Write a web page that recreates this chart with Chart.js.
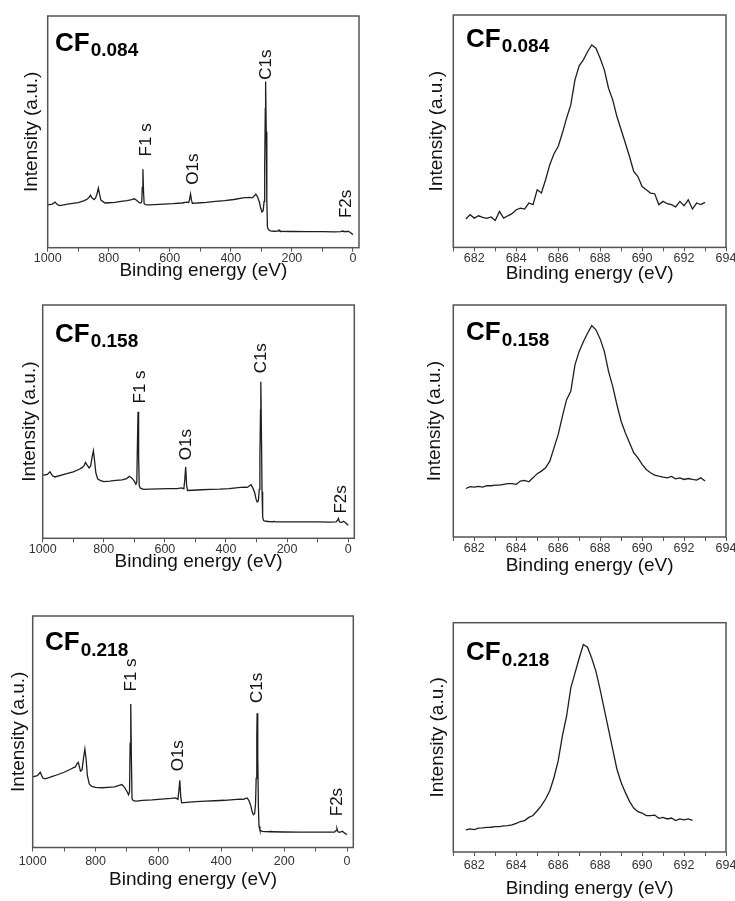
<!DOCTYPE html>
<html>
<head>
<meta charset="utf-8">
<title>XPS spectra of CF samples</title>
<script src="https://cdn.jsdelivr.net/npm/chart.js@4.4.1/dist/chart.umd.min.js"></script>
<style>
  html, body { margin: 0; padding: 0; background: #fff; overflow: hidden; }
  #page { position: relative; width: 735px; height: 901px; overflow: hidden; }
  canvas { position: absolute; }
</style>
</head>
<body>
<div id="page">
  <canvas id="survey1" width="367" height="290" style="left:0;top:0"></canvas>
  <canvas id="fluor1" width="380" height="290" style="left:367px;top:0"></canvas>
  <canvas id="survey2" width="367" height="310" style="left:0;top:290px"></canvas>
  <canvas id="fluor2" width="380" height="310" style="left:367px;top:290px"></canvas>
  <canvas id="survey3" width="367" height="301" style="left:0;top:600px"></canvas>
  <canvas id="fluor3" width="380" height="301" style="left:367px;top:600px"></canvas>
</div>
<script>
const FONT = '"Liberation Sans", Arial, sans-serif';

// --- DATA ---
const sampleNames = ['0.084', '0.158', '0.218'];

// survey spectra (eV, intensity in % of plot height)
const surveyEnergy = [
  1000, 985, 976, 968, 960, 930, 900, 880, 870, 864,
  860, 855, 848, 843, 838, 834, 830, 826, 820, 812,
  800, 780, 760, 740, 725, 716, 708, 700, 695, 692,
  690, 688, 686, 684, 680, 670, 650, 620, 590, 560,
  545, 538, 535, 532, 529, 526, 510, 480, 450, 420,
  390, 360, 340, 330, 322, 318, 312, 306, 302, 298,
  294, 291, 289, 287, 286, 284, 282, 280, 277, 270,
  260, 245, 242, 239, 200, 150, 100, 60, 40, 35,
  32, 29, 24, 20, 15, 10, 5, 0
];
const surveyCF084 = [
  18.5, 18.8, 19.7, 18.6, 18.2, 18.9, 19.5, 20.3, 21.0, 21.8,
  22.6, 21.5, 20.8, 21.5, 23.5, 25.7, 23.0, 20.6, 20.0, 19.3,
  19.4, 19.6, 20.0, 20.3, 20.7, 21.1, 20.4, 19.4, 19.3, 19.8,
  26.0, 33.9, 24.0, 19.0, 18.6, 18.5, 18.6, 18.8, 19.0, 19.3,
  19.7, 19.5, 21.0, 23.1, 20.5, 19.2, 19.3, 19.6, 20.0, 20.3,
  20.8, 21.5, 21.7, 21.5, 22.5, 23.1, 21.8, 19.5, 17.0, 15.4,
  16.0, 20.0, 35.0, 60.0, 71.7, 50.0, 20.0, 9.0, 7.8, 7.3,
  7.1, 7.2, 7.6, 7.1, 7.0, 6.9, 6.9, 6.8, 6.9, 7.1,
  7.2, 6.9, 7.0, 6.9, 7.1, 6.7, 6.2, 5.6
];
const surveyCF158 = [
  27.0, 27.4, 28.5, 26.8, 26.3, 27.4, 28.5, 29.6, 30.4, 31.2,
  32.5, 31.5, 30.2, 31.0, 35.0, 37.5, 33.0, 28.0, 25.5, 24.8,
  24.3, 24.5, 24.8, 25.0, 25.6, 26.6, 25.8, 24.5, 23.2, 24.0,
  40.0, 54.2, 35.0, 22.5, 21.5, 21.0, 21.1, 21.2, 21.3, 21.3,
  21.6, 21.2, 25.0, 30.6, 23.0, 20.5, 20.6, 20.8, 21.0, 21.1,
  21.3, 21.7, 21.9, 21.8, 22.6, 23.0, 21.5, 19.5, 17.0, 15.6,
  16.0, 21.0, 35.0, 55.0, 67.1, 45.0, 20.0, 9.2, 7.6, 7.3,
  7.2, 7.1, 7.3, 7.0, 7.0, 7.0, 7.0, 6.9, 7.0, 7.8,
  8.5, 7.1, 6.8, 6.9, 7.3, 6.8, 6.2, 5.6
];
const surveyCF218 = [
  30.5, 31.0, 32.5, 30.0, 29.7, 31.0, 32.5, 33.8, 34.5, 34.8,
  36.0, 36.8, 33.0, 33.5, 39.0, 42.5, 38.0, 31.0, 27.5, 26.4,
  26.0, 25.8, 26.0, 26.2, 26.8, 27.2, 26.0, 24.2, 22.8, 24.0,
  45.0, 62.0, 38.0, 21.0, 20.2, 20.0, 20.4, 20.6, 20.9, 21.2,
  21.4, 20.8, 24.5, 29.0, 22.0, 19.3, 19.5, 19.8, 20.0, 20.2,
  20.4, 20.7, 20.9, 20.8, 21.2, 21.4, 20.3, 18.0, 15.5, 14.2,
  14.6, 19.0, 30.0, 48.0, 58.0, 40.0, 18.0, 9.2, 7.5, 7.0,
  6.9, 6.8, 7.0, 6.8, 6.7, 6.6, 6.6, 6.6, 6.7, 7.3,
  8.2, 6.8, 6.6, 6.7, 7.0, 6.5, 6.0, 5.6
];
const surveyTicks = [1000, 900, 800, 700, 600, 500, 400, 300, 200, 100, 0];
const surveyTickLabels = ['1000', '800', '600', '400', '200', '0'];

// peak labels on the survey spectra: energy and height of the text start
const peakNames = ['F1 s', 'O1s', 'C1s', 'F2s'];
const peakLabelEnergy084 = [676, 523, 283, 21];
const peakLabelLevel084 = [39.4, 27.2, 72.5, 12.8];
const peakLabelEnergy158 = [681.6, 529, 283.4, 21.6];
const peakLabelLevel158 = [57.8, 33.5, 70.7, 10.6];
const peakLabelEnergy218 = [684.7, 536.3, 286.6, 31.8];
const peakLabelLevel218 = [67.4, 32.9, 62.4, 13.5];

// F1s high resolution spectra
const f1sEnergy = [
  681.6, 681.8, 682.0, 682.2, 682.4, 682.6, 682.8, 683.0, 683.2, 683.4,
  683.6, 683.8, 684.0, 684.2, 684.4, 684.6, 684.8, 685.0, 685.2, 685.4,
  685.6, 685.8, 686.0, 686.2, 686.4, 686.6, 686.8, 687.0, 687.2, 687.4,
  687.6, 687.8, 688.0, 688.2, 688.4, 688.6, 688.8, 689.0, 689.2, 689.4,
  689.6, 689.8, 690.0, 690.2, 690.4, 690.6, 690.8, 691.0, 691.2, 691.4,
  691.6, 691.8, 692.0, 692.2, 692.4, 692.6, 692.8, 693.0
];
const f1sCF084 = [
  12.2, 14.1, 12.6, 13.6, 12.9, 12.5, 13.1, 11.6, 15.5, 12.6,
  13.6, 14.5, 16.2, 16.9, 16.5, 19.1, 18.4, 24.8, 23.4, 29.1,
  35.6, 40.3, 43.4, 49.2, 55.6, 61.3, 72.1, 78.1, 80.7, 84.2,
  87.1, 85.7, 81.4, 76.4, 68.5, 63.5, 56.3, 50.6, 44.9, 39.1,
  32.7, 30.5, 26.2, 24.8, 23.4, 23.1, 18.4, 19.8, 18.8, 18.4,
  17.4, 19.8, 17.9, 20.5, 16.5, 19.1, 18.4, 19.4
];
const f1sCF158 = [
  20.9, 21.7, 21.5, 21.8, 21.5, 22.1, 22.1, 22.4, 22.4, 22.7,
  23.0, 23.0, 22.7, 24.1, 24.4, 23.8, 25.5, 27.3, 28.4, 29.8,
  32.7, 38.4, 44.1, 52.0, 59.2, 62.8, 74.2, 80.0, 84.2, 87.8,
  91.1, 89.3, 85.4, 80.0, 71.4, 64.9, 57.0, 49.9, 44.9, 40.6,
  36.3, 34.1, 31.3, 29.1, 27.7, 26.7, 26.2, 25.8, 25.5, 26.1,
  25.1, 25.5, 24.8, 25.2, 24.8, 24.5, 25.5, 24.1
];
const f1sCF218 = [
  9.6, 10.1, 9.8, 10.4, 10.5, 10.7, 10.8, 11.1, 11.1, 11.4,
  11.5, 11.8, 12.5, 13.3, 13.7, 15.1, 15.9, 18.0, 20.2, 23.1,
  26.7, 32.5, 39.7, 50.6, 59.2, 71.5, 78.0, 84.5, 90.5, 89.3,
  84.5, 78.8, 70.8, 62.1, 53.5, 44.8, 36.1, 30.3, 26.0, 22.1,
  19.2, 17.6, 17.0, 15.9, 15.9, 16.1, 14.7, 15.1, 14.4, 14.8,
  13.7, 14.4, 14.0, 14.4, 13.8, null, null, null
];
const f1sTicks = [681, 682, 683, 684, 685, 686, 687, 688, 689, 690, 691, 692, 693, 694];
const f1sTickLabels = ['682', '684', '686', '688', '690', '692', '694'];

// --- PANELS (layout only) ---
const panels = [
  { id: 'survey1', survey: true, sample: 0, counts: surveyCF084,
    peakE: peakLabelEnergy084, peakY: peakLabelLevel084,
    pad: { left: 22.2, right: 8, top: 16, bottom: 10 }, yGap: 6.5, tickPad: 0.4, titlePad: -4, cf: [7.3, 34.7] },
  { id: 'fluor1', survey: false, sample: 0, counts: f1sCF084,
    pad: { left: 60.2, right: 21, top: 15, bottom: 6.3 }, yGap: 7.1, tickPad: 0.4, titlePad: 0, cf: [12.7, 31.7] },
  { id: 'survey2', survey: true, sample: 1, counts: surveyCF158,
    peakE: peakLabelEnergy158, peakY: peakLabelLevel158,
    pad: { left: 20.5, right: 12.7, top: 15, bottom: 29.2 }, yGap: 3.2, tickPad: 0.5, titlePad: -4, cf: [12.3, 36.7] },
  { id: 'fluor2', survey: false, sample: 1, counts: f1sCF158,
    pad: { left: 58.5, right: 21, top: 15, bottom: 25 }, yGap: 8.8, tickPad: 1, titlePad: 0.5, cf: [12.7, 35] },
  { id: 'survey3', survey: true, sample: 2, counts: surveyCF218,
    peakE: peakLabelEnergy218, peakY: peakLabelLevel218,
    pad: { left: 9.5, right: 13.7, top: 16, bottom: 11.5 }, yGap: 4.2, tickPad: 3.5, titlePad: -0.5, cf: [12.3, 34] },
  { id: 'fluor3', survey: false, sample: 2, counts: f1sCF218,
    pad: { left: 61.5, right: 21, top: 22.7, bottom: 2.5 }, yGap: 5.8, tickPad: 3.5, titlePad: 4, cf: [12.7, 37.3] }
];

// frame, sample name and peak names
const decorPlugin = {
  id: 'decor',
  afterDraw(chart, args, opts) {
    const { ctx, chartArea: a, scales } = chart;
    ctx.save();
    ctx.strokeStyle = '#555';
    ctx.lineWidth = 1.5;
    ctx.strokeRect(a.left, a.top, a.right - a.left, a.bottom - a.top);

    ctx.fillStyle = '#000';
    ctx.textBaseline = 'alphabetic';
    ctx.textAlign = 'left';
    const cx = a.left + opts.cf[0];
    const cy = a.top + opts.cf[1];
    ctx.font = 'bold 26px ' + FONT;
    ctx.fillText('CF', cx, cy);
    const w = ctx.measureText('CF').width;
    ctx.font = 'bold 19px ' + FONT;
    ctx.fillText(opts.name, cx + w + 1, cy + 5.5);

    if (opts.peakE) {
      ctx.font = '17px ' + FONT;
      ctx.fillStyle = '#111';
      ctx.textBaseline = 'middle';
      peakNames.forEach((label, i) => {
        const px = scales.x.getPixelForValue(opts.peakE[i]);
        const py = scales.y.getPixelForValue(opts.peakY[i]);
        ctx.save();
        ctx.translate(px, py);
        ctx.rotate(-Math.PI / 2);
        ctx.fillText(label, 0, 0);
        ctx.restore();
      });
    }
    ctx.restore();
  }
};

function buildChart(p) {
  const energy = p.survey ? surveyEnergy : f1sEnergy;
  const ticks = p.survey ? surveyTicks : f1sTicks;
  const tickLabels = p.survey ? surveyTickLabels : f1sTickLabels;
  const points = energy.map((e, i) => ({ x: e, y: p.counts[i] }));

  new Chart(document.getElementById(p.id), {
    type: 'line',
    data: {
      datasets: [{
        data: points,
        borderColor: '#1e1e1e',
        borderWidth: 1.3,
        pointRadius: 0,
        tension: 0,
        fill: false,
        spanGaps: false
      }]
    },
    options: {
      responsive: false,
      animation: false,
      layout: { padding: p.pad },
      plugins: {
        legend: { display: false },
        tooltip: { enabled: false },
        decor: { cf: p.cf, name: sampleNames[p.sample], peakE: p.peakE, peakY: p.peakY }
      },
      scales: {
        x: {
          type: 'linear',
          reverse: p.survey,
          min: p.survey ? -20 : 681,
          max: p.survey ? 1000 : 694,
          afterBuildTicks: scale => { scale.ticks = ticks.map(v => ({ value: v })); },
          ticks: {
            autoSkip: false,
            maxRotation: 0,
            padding: p.tickPad,
            color: '#333',
            font: { family: FONT, size: 12.5, lineHeight: 1 },
            callback: v => tickLabels.includes(String(v)) ? String(v) : ''
          },
          grid: { display: true, drawOnChartArea: false, drawTicks: true, tickLength: 4, tickColor: '#555', lineWidth: 1 },
          border: { display: false },
          title: {
            display: true,
            text: 'Binding energy (eV)',
            color: '#111',
            font: { family: FONT, size: 19, lineHeight: 1 },
            padding: { top: p.titlePad, bottom: 0 }
          }
        },
        y: {
          min: 0,
          max: 100,
          ticks: { display: false },
          grid: { display: false, drawTicks: false },
          border: { display: false },
          title: {
            display: true,
            text: 'Intensity (a.u.)',
            color: '#111',
            font: { family: FONT, size: 19, lineHeight: 1 },
            padding: { top: 0, bottom: p.yGap }
          }
        }
      }
    },
    plugins: [decorPlugin]
  });
}

panels.forEach(buildChart);
</script>
</body>
</html>
